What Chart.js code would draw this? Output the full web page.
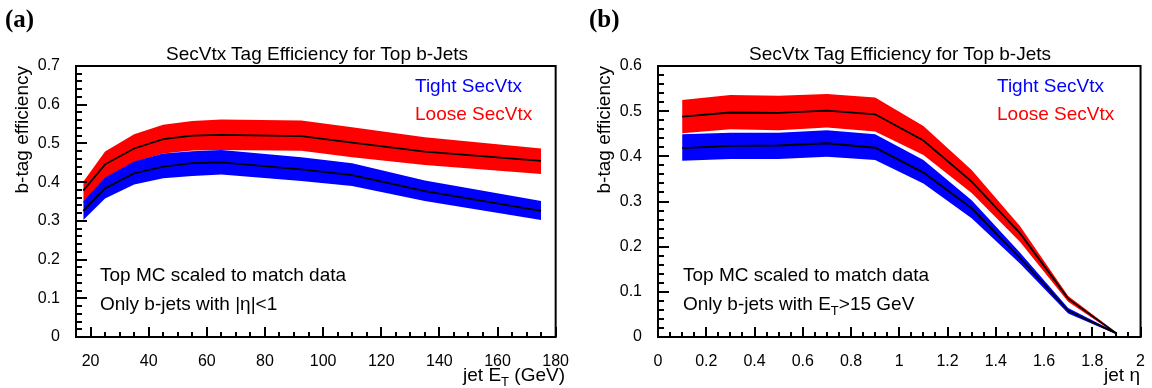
<!DOCTYPE html>
<html>
<head>
<meta charset="utf-8">
<script src="https://cdn.jsdelivr.net/npm/chart.js@4.4.1/dist/chart.umd.min.js"></script>
<style>
  html, body { margin: 0; padding: 0; background: #fff; }
  #wrap { position: relative; width: 1152px; height: 388px; overflow: hidden;
          font-family: "Liberation Sans", Arial, sans-serif; color: #000; }
  canvas { position: absolute; top: 0; }
  .t { position: absolute; white-space: nowrap; font-size: 19px; line-height: 19px; }
  .c { transform: translateX(-50%); }
  .panel { position: absolute; font-family: "Liberation Serif", "Times New Roman", serif;
           font-weight: bold; font-size: 25px; line-height: 25px; }
  .sub { font-size: 13px; position: relative; top: 5px; }
</style>
</head>
<body>
<div id="wrap">
  <canvas id="chartEt" width="576" height="388" style="left:0"></canvas>
  <canvas id="chartEta" width="576" height="388" style="left:576px"></canvas>

  <div class="panel" style="left:5px;top:6px">(a)</div>
  <div class="panel" style="left:589px;top:6px">(b)</div>

  <div class="t c" style="left:317px;top:44px">SecVtx Tag Efficiency for Top b-Jets</div>
  <div class="t c" style="left:900px;top:44px">SecVtx Tag Efficiency for Top b-Jets</div>

  <div class="t" style="left:415px;top:76px;color:#0000ff">Tight SecVtx</div>
  <div class="t" style="left:415px;top:104px;color:#ff0000">Loose SecVtx</div>
  <div class="t" style="left:997px;top:76px;color:#0000ff">Tight SecVtx</div>
  <div class="t" style="left:997px;top:104px;color:#ff0000">Loose SecVtx</div>

  <div class="t" style="left:100px;top:265px">Top MC scaled to match data</div>
  <div class="t" style="left:100px;top:294px">Only b-jets with |η|&lt;1</div>
  <div class="t" style="left:683px;top:265px">Top MC scaled to match data</div>
  <div class="t" style="left:683px;top:294px">Only b-jets with E<span class="sub">T</span>&gt;15 GeV</div>

  <div class="t" style="right:587px;top:365px">jet E<span class="sub">T</span> (GeV)</div>
  <div class="t" style="right:12px;top:365px">jet η</div>
</div>

<script>
// ============================
// (a) efficiency vs jet E_T
// ============================
const etBins     = [17.5, 25, 35, 45, 55, 65, 92.5, 110, 135, 175];
const etTight    = [0.326, 0.384, 0.423, 0.440, 0.449, 0.451, 0.433, 0.418, 0.377, 0.326];
const etTightHi  = [0.350, 0.412, 0.453, 0.474, 0.480, 0.483, 0.464, 0.449, 0.404, 0.351];
const etTightLo  = [0.302, 0.358, 0.394, 0.410, 0.416, 0.420, 0.403, 0.390, 0.351, 0.302];
const etLoose    = [0.378, 0.446, 0.487, 0.511, 0.520, 0.522, 0.519, 0.502, 0.479, 0.455];
const etLooseHi  = [0.401, 0.479, 0.524, 0.548, 0.558, 0.562, 0.559, 0.542, 0.516, 0.487];
const etLooseLo  = [0.345, 0.411, 0.452, 0.474, 0.482, 0.483, 0.481, 0.464, 0.444, 0.421];

// ============================
// (b) efficiency vs jet eta
// ============================
const etaBins    = [0.1, 0.3, 0.5, 0.7, 0.9, 1.1, 1.3, 1.5, 1.7, 1.9];
const etaTight   = [0.418, 0.423, 0.424, 0.429, 0.419, 0.364, 0.285, 0.175, 0.058, 0.008];
const etaTightHi = [0.449, 0.452, 0.452, 0.458, 0.449, 0.392, 0.303, 0.187, 0.064, 0.010];
const etaTightLo = [0.390, 0.394, 0.394, 0.399, 0.392, 0.340, 0.263, 0.163, 0.052, 0.006];
const etaLoose   = [0.488, 0.497, 0.496, 0.501, 0.493, 0.435, 0.344, 0.230, 0.085, 0.008];
const etaLooseHi = [0.525, 0.536, 0.534, 0.538, 0.530, 0.467, 0.370, 0.246, 0.091, 0.010];
const etaLooseLo = [0.451, 0.460, 0.458, 0.464, 0.455, 0.403, 0.319, 0.211, 0.078, 0.006];

// labelled (major) ticks
const etTicks   = [20, 40, 60, 80, 100, 120, 140, 160, 180];
const etaTicks  = [0, 0.2, 0.4, 0.6, 0.8, 1, 1.2, 1.4, 1.6, 1.8, 2];
const effTicksA = [0, 0.1, 0.2, 0.3, 0.4, 0.5, 0.6, 0.7];
const effTicksB = [0, 0.1, 0.2, 0.3, 0.4, 0.5, 0.6];

const RED = "#ff0000";
const BLUE = "#0000ff";
const FONT = "'Liberation Sans', Arial, sans-serif";

const pts = (xs, ys) => xs.map((x, i) => ({ x: x, y: ys[i] }));

// major + minor ticks, ROOT style
function rootTicks(majors, step) {
  return scale => {
    const ticks = [];
    const n0 = Math.ceil(scale.min / step - 1e-6);
    const n1 = Math.floor(scale.max / step + 1e-6);
    for (let n = n0; n <= n1; n++) {
      const v = +(n * step).toFixed(4);
      ticks.push({ value: v, isMajor: majors.some(m => Math.abs(m - v) < 1e-6) });
    }
    scale.ticks = ticks;
  };
}

// frame + inward tick marks
const rootFrame = {
  id: "rootFrame",
  afterDraw(chart) {
    const { ctx, chartArea: a, scales: { x, y } } = chart;
    ctx.save();
    ctx.strokeStyle = "#000";
    ctx.lineWidth = 2;
    ctx.beginPath();
    x.ticks.forEach(t => {
      const px = Math.round(x.getPixelForValue(t.value));
      ctx.moveTo(px, a.bottom);
      ctx.lineTo(px, a.bottom - (t.isMajor ? 10 : 5));
    });
    y.ticks.forEach(t => {
      const py = Math.round(y.getPixelForValue(t.value));
      ctx.moveTo(a.left, py);
      ctx.lineTo(a.left + (t.isMajor ? 11 : 6), py);
    });
    ctx.stroke();
    ctx.strokeRect(a.left, a.top, a.right - a.left, a.bottom - a.top);
    ctx.restore();
  }
};

function band(data, color, fill) {
  return {
    data: data, fill: fill ? "+1" : false,
    backgroundColor: color, borderColor: "rgba(0,0,0,0)", borderWidth: 0,
    pointRadius: 0, tension: 0, order: color === RED ? 3 : 2
  };
}

function centre(data) {
  return { data: data, fill: false, borderColor: "#000", borderWidth: 1.8,
           pointRadius: 0, tension: 0, order: 0 };
}

function makeChart(id, cfg) {
  return new Chart(document.getElementById(id), {
    type: "line",
    data: {
      datasets: [
        band(pts(cfg.xs, cfg.looseHi), RED, true),
        band(pts(cfg.xs, cfg.looseLo), RED, false),
        band(pts(cfg.xs, cfg.tightHi), BLUE, true),
        band(pts(cfg.xs, cfg.tightLo), BLUE, false),
        centre(pts(cfg.xs, cfg.loose)),
        centre(pts(cfg.xs, cfg.tight))
      ]
    },
    options: {
      responsive: false,
      animation: false,
      events: [],
      layout: { padding: { left: 0, top: 66, right: cfg.padRight, bottom: 0 } },
      plugins: { legend: { display: false }, tooltip: { enabled: false } },
      scales: {
        x: {
          type: "linear", min: cfg.xMin, max: cfg.xMax,
          afterFit: s => { s.height = 51; },
          afterBuildTicks: rootTicks(cfg.xMajors, cfg.xStep),
          ticks: {
            autoSkip: false, maxRotation: 0, minRotation: 0, padding: 7,
            color: "#000", font: { family: FONT, size: 16 },
            callback: (v, i, ticks) => ticks[i].isMajor ? String(v) : ""
          },
          grid: { display: false },
          border: { display: false }
        },
        y: {
          type: "linear", min: 0, max: cfg.yMax,
          afterFit: s => { s.width = cfg.yWidth; },
          afterBuildTicks: rootTicks(cfg.yMajors, 0.02),
          ticks: {
            autoSkip: false, padding: 8,
            color: "#000", font: { family: FONT, size: 16 },
            callback: (v, i, ticks) => ticks[i].isMajor ? String(v) : ""
          },
          grid: { display: false },
          border: { display: false },
          title: {
            display: true, text: "b-tag efficiency", align: "end", color: "#000",
            font: { family: FONT, size: 19 },
            padding: { top: cfg.titlePad, bottom: 0 }
          }
        }
      }
    },
    plugins: [rootFrame]
  });
}

makeChart("chartEt", {
  xs: etBins, tight: etTight, tightHi: etTightHi, tightLo: etTightLo,
  loose: etLoose, looseHi: etLooseHi, looseLo: etLooseLo,
  xMin: 15, xMax: 180, xMajors: etTicks, xStep: 5,
  yMax: 0.7, yMajors: effTicksA,
  yWidth: 76, padRight: 17, titlePad: 11.6
});

makeChart("chartEta", {
  xs: etaBins, tight: etaTight, tightHi: etaTightHi, tightLo: etaTightLo,
  loose: etaLoose, looseHi: etaLooseHi, looseLo: etaLooseLo,
  xMin: 0, xMax: 2, xMajors: etaTicks, xStep: 0.05,
  yMax: 0.6, yMajors: effTicksB,
  yWidth: 82, padRight: 11, titlePad: 17.6
});
</script>
</body>
</html>
